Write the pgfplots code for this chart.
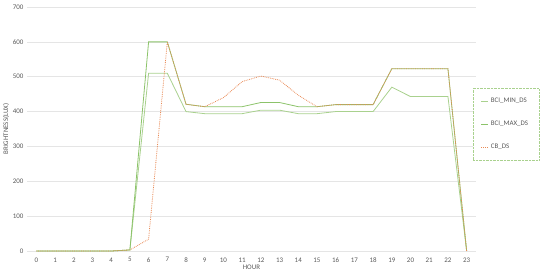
\documentclass[border=0pt]{standalone}
\usepackage{fontspec}
\setmainfont{Carlito}
\usepackage{pgfplots}
\pgfplotsset{compat=1.18}

\definecolor{gmin}{HTML}{A9D18E}
\definecolor{gmax}{HTML}{8CC36A}
\definecolor{cbor}{HTML}{E98A55}
\definecolor{tick}{HTML}{595959}

\begin{document}
\begin{tikzpicture}[x=1bp,y=1bp]
\path[use as bounding box] (0,0) rectangle (550,279);
\begin{axis}[
    at={(27bp,28bp)}, anchor=south west,
    scale only axis, width=449bp, height=244bp,
    xmin=-0.5, xmax=23.5, ymin=0, ymax=700,
    xtick={0,...,23}, ytick={0,100,...,700},
    axis line style={draw=none},
    tick style={draw=none},
    ymajorgrids, grid style={gray!20, line width=0.6pt},
    tick label style={font=\fontsize{7}{8}\selectfont, text=tick},
    xticklabel style={yshift=-3bp},
    /pgf/number format/assume math mode=true,
    xlabel={HOUR}, ylabel={BRIGHTNESS(LUX)},
    label style={font=\fontsize{7}{8}\selectfont, text=tick},
    xlabel style={yshift=4bp},
    ylabel style={yshift=-3bp},
    legend style={at={(0.993,0.668)}, anchor=north west,
        draw=gmin, densely dotted, font=\fontsize{7}{8}\selectfont,
        text=tick, row sep=13bp, inner xsep=8bp, inner ysep=8bp,
        text width=38bp},
    legend cell align=left,
    legend image code/.code={\draw[#1] (0bp,0bp) -- (7bp,0bp);},
]
\addplot[gmin, line width=0.8pt] coordinates {
(0,0) (1,0) (2,0) (3,0) (4,0) (5,3) (6,510) (7,510) (8,400) (9,394) (10,394) (11,394)
(12,404) (13,404) (14,394) (15,394) (16,400) (17,400) (18,400) (19,470) (20,443)
(21,443) (22,443) (23,0)};
\addlegendentry{BCI\_MIN\_DS}
\addplot[gmax, line width=0.8pt] coordinates {
(0,0) (1,0) (2,0) (3,0) (4,0) (5,3) (6,600) (7,600) (8,421) (9,414) (10,414) (11,414)
(12,426) (13,426) (14,414) (15,414) (16,420) (17,420) (18,420) (19,523) (20,523)
(21,523) (22,523) (23,0)};
\addlegendentry{BCI\_MAX\_DS}
\addplot[cbor, densely dotted, line width=0.8pt] coordinates {
(0,0) (1,0) (2,0) (3,0) (4,0) (5,3) (6,34) (7,600) (8,421) (9,414) (10,440) (11,486)
(12,502) (13,490) (14,447) (15,414) (16,420) (17,420) (18,420) (19,523) (20,523)
(21,523) (22,523) (23,0)};
\addlegendentry{CB\_DS}
\end{axis}
\end{tikzpicture}
\end{document}
